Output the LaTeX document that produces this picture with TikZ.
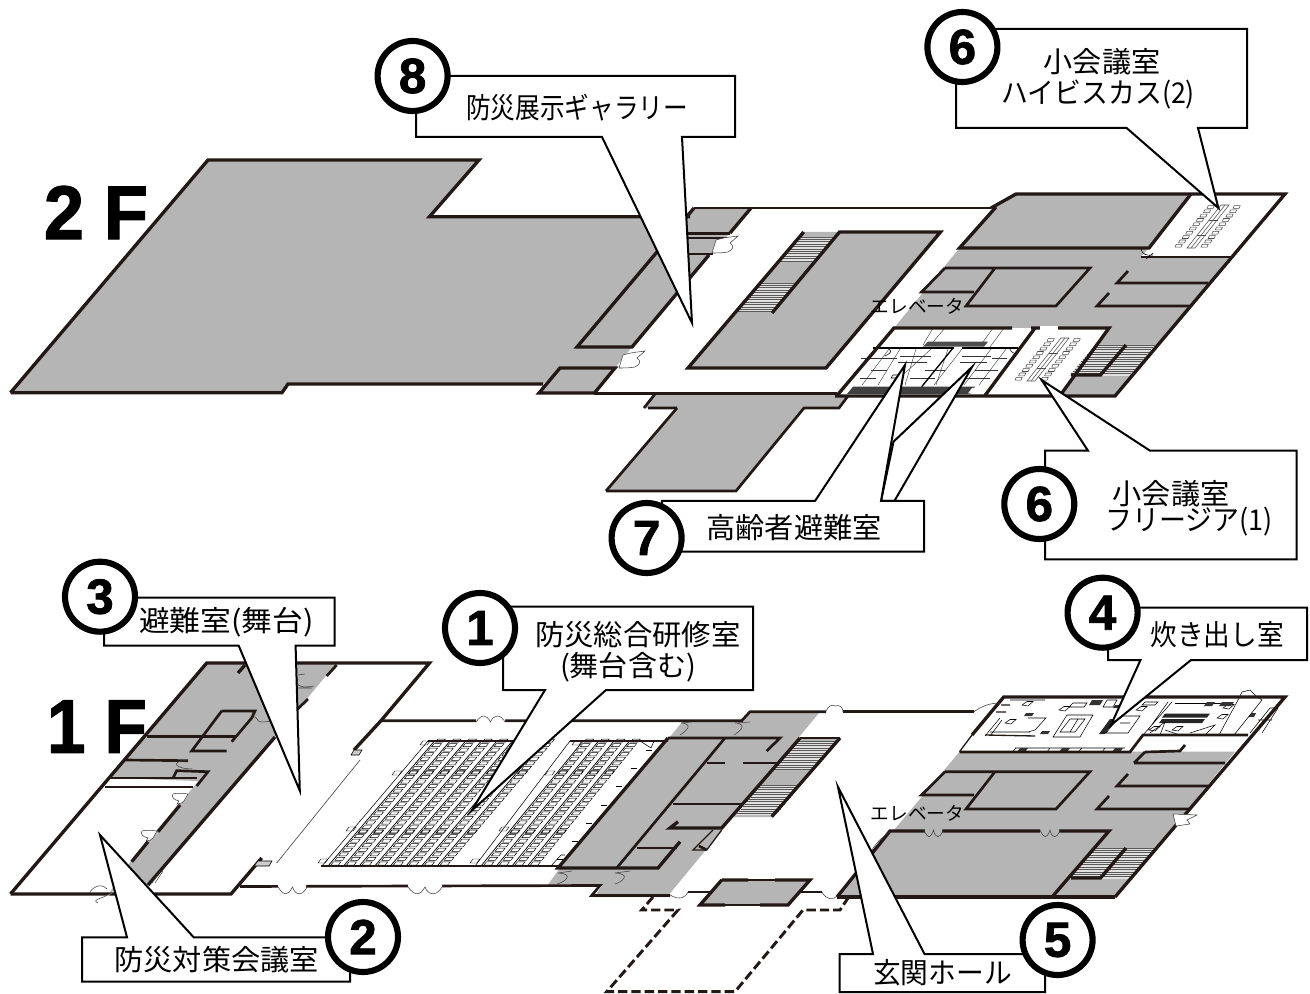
\documentclass[tikz,border=0pt]{standalone}
\usepackage{fontspec}
\setmainfont{Liberation Sans}
\newfontfamily\jp{Noto Sans CJK JP}
\newfontfamily\numf[UprightFont=* Bold,FakeBold=1.6]{Liberation Sans}
\definecolor{wallc}{HTML}{231815}
\definecolor{grayc}{HTML}{B5B5B5}
\tikzset{
 floorg/.style={fill=grayc,draw=none},
 wall/.style={draw=wallc,line width=2.5pt,line join=miter,line cap=butt},
 wallb/.style={draw=wallc,line width=2pt,line join=miter},
 thin1/.style={draw=black,line width=0.4pt},
 hair/.style={draw=black!80,line width=0.3pt},
 med1/.style={draw=wallc,line width=1pt},
 doorl/.style={draw=black!75,line width=0.4pt,fill=white},
 dashw/.style={draw=wallc,line width=2.2pt,dash pattern=on 7pt off 3pt},
 call/.style={draw=black,line width=1.5pt,fill=white,line join=miter},
 numc/.style={circle,draw=black,line width=4.6pt,fill=white,minimum size=52.5pt,inner sep=0pt,font=\fontsize{37}{40}\selectfont\numf},
 flr/.style={inner sep=0pt,font=\fontsize{57}{60}\selectfont\numf},
 lbl/.style={inner sep=0pt,font=\fontsize{21.5}{24}\selectfont\jp},
 ele/.style={inner sep=0pt,font=\fontsize{14}{16}\selectfont\jp},
 seat/.style={draw=black,line width=0.36pt,fill=white},
 seatb/.style={draw=black,line width=0.65pt,fill=white},
 spine/.style={draw=black,line width=0.55pt},
 conf1/.style={draw=black!70,line width=0.4pt,fill=white},
}
\newcommand\wtxt[2]{\resizebox{#1pt}{\height}{#2}}
% stripes of a stair: left x, right x at y0, down to y1
\newcommand\stairs[4]{%
 \fill[black!12] (#1,#3)--(#2,#3)--({#2-0.85*(#4-#3)},#4)--({#1-0.85*(#4-#3)},#4)--cycle;
 \pgfmathsetmacro\ysec{#3+2.4}%
 \foreach \yy in {#3,\ysec,...,#4}{\draw[draw=black!65,line width=0.55pt] ({#1-0.85*(\yy-#3)},\yy)--({#2-0.85*(\yy-#3)},\yy);}}
% double door wave
\newcommand\wave[4]{\draw[doorl,fill=none] (#1,#2) .. controls ({#1+0.2*#3},{#2+#4}) and ({#1+0.35*#3},{#2+#4}) .. ({#1+0.5*#3},#2) .. controls ({#1+0.6*#3},{#2+#4}) and ({#1+0.85*#3},{#2+#4}) .. ({#1+#3},#2);}
\newcommand\wing[2]{\draw[doorl] (#1,#2) .. controls ({#1+10},{#2-3}) and ({#1+16},{#2-3}) .. ({#1+22},{#2-4}) -- ({#1+14},{#2+3}) .. controls ({#1+18},{#2+6}) and ({#1+18},{#2+9}) .. ({#1+12},{#2+12}) .. controls ({#1+6},{#2+13}) and ({#1+2},{#2+13}) .. ({#1-4},{#2+13}) -- cycle;}
\newcommand\smallwing[2]{\draw[doorl] (#1,#2) .. controls ({#1-6},{#2-1}) and ({#1-12},{#2-1}) .. ({#1-15},{#2}) .. controls ({#1-17},{#2+3}) and ({#1-14},{#2+6}) .. ({#1-9},{#2+7}) -- ({#1-11},{#2+10}) .. controls ({#1-8},{#2+10}) and ({#1-5},{#2+9}) .. ({#1-4},{#2+7}) -- cycle;}
\newcommand\conf[2]{%
 \draw[conf1] ({#1+11},{#2-2})--({#1+19},{#2-2})--({#1-15},{#2+41})--({#1-23},{#2+41})--cycle;
 \draw[conf1] ({#1+15},{#2-2})--({#1-19},{#2+41});
 \draw[conf1] ({#1-1},{#2+13})--({#1+8},{#2+13}) ({#1-13},{#2+28})--({#1-4},{#2+28});
 \foreach \ii in {0,...,9}{
  \draw[conf1] ({#1-3.55*\ii-3},{#2+4.3*\ii+1.4})--++(6,0)--++(1.2,-2.8)--++(-6,0)--cycle;
  \draw[conf1] ({#1+26-3.55*\ii-3},{#2+4.3*\ii+1.4})--++(6,0)--++(1.2,-2.8)--++(-6,0)--cycle;}}
\newcommand\diam[2]{\draw[thin1,fill=white] ({#1-5},#2)--({#1},{#2-3.5})--({#1+6},{#2-3.5})--({#1+1},{#2+1})--cycle;}
\begin{document}
\begin{tikzpicture}[x=0.75pt,y=-0.75pt]
\useasboundingbox (0,0) rectangle (1310,994);
\fill[white] (0,0) rectangle (1310,994);

%%%%%%%%%% 2F
\fill[floorg] (10.5,392.7)--(208,160)--(479,160)--(429.5,216.7)--(686,216.7)--(694,208)--(751,208)--(632,347)--(615,368)--(560,368)--(543,384)--(288,384)--(282,392.7)--cycle;
\fill[floorg] (560,368)--(615,368)--(594.5,393)--(539,393)--cycle;
\fill[floorg] (655,394)--(839,394)--(848,397)--(839,408)--(804,408)--(736,491)--(606,491)--(677,408)--(644,408)--cycle;
\fill[floorg] (803.7,232)--(940.5,232)--(826,368)--(688,368)--cycle;
\fill[floorg] (995,208)--(1016,194)--(1191,194)--(1149,248)--(959.5,248)--cycle;
\fill[floorg] (959.5,248)--(1149,248)--(1140.5,257)--(1231,257)--(1115,396)--(1060.5,396)--(1109,328)--(894,328)--cycle;
\stairs{799.6}{835.3}{237}{262}
\stairs{761.4}{797}{283}{312}
\stairs{1095}{1155}{345}{376}
% room 7 details
\begin{scope}
\fill[white!30!black] (928,341.7)--(988,341.7)--(984,346.7)--(923,346.7)--cycle;
\fill[white!25!black] (853,386.7)--(975,386.7)--(970,394)--(847,394)--cycle;
\fill[white] (972,388)--(983,388)--(979,393.5)--(968,393.5)--cycle;
\draw[hair] (933,328)--(923,345) (945,328)--(933,342) (993,328)--(983,342) (1004,328)--(990,347);
\draw[med1,draw=black] (873,348)--(954,348) (962,348)--(1018,348);
\draw[hair] (900,356.7)--(931,356.7) (962,356.7)--(991,356.7) (898,362.7)--(927,362.7) (960,362.7)--(987,362.7);
\draw[hair] (861,358)--(897,358) (992,358)--(1007,358) (871,370)--(887,370) (925,370)--(945,370) (975,370)--(998,370) (860,378)--(876,378) (910,378)--(935,378) (965,378)--(990,378);
\foreach \a/\b in {889/862,900/878,931/892,962/934,991/964,1006/979,948/936,916/905}{\draw[hair] (\a,349)--(\b,385);}
\draw[med1,draw=black] (953,348)--(921.7,386.7);
\draw[thin1,fill=white] (893,375)--(900,375)--(898,378)--(891,378)--cycle;
\draw[thin1] (889,349) .. controls (893,352) and (889,354) .. (885,356);
\draw[thin1] (1010,347) .. controls (1009,350) and (1012,353) .. (1016,354);
\end{scope}
\conf{1210}{207}
\conf{1050}{340}
% walls 2F
\draw[wall] (10.5,392.7)--(208,160)--(479,160)--(429.5,216.7)--(690,216.7);
\draw[wall] (10.5,392.7)--(282,392.7)--(288,384)--(543,384);
\draw[wall] (539,393)--(560,368)--(615,368)--(594.5,393)--cycle;
\draw[wallb] (594,393.5)--(837,393.5);
\draw[wall] (694,208)--(577,347)--(632,347)--(709,255);
\draw[wallb] (713,254)--(684,254) (684,233.5)--(730,233.5) (684,238)--(727,238);
\draw[wallb] (694,208)--(991,208);
\draw[wall] (751,208)--(730,233);
\draw[wall] (803.7,232)--(688,368)--(826,368)--(940.5,232)--(839.5,232)--(772,313);
\draw[wallb] (648,408)--(677,408) (644,408)--(655,394);
\draw[wallb] (606,491)--(677,408);
\draw[wallb] (606,491)--(736,491)--(804,408)--(839,408)--(848,396);
\draw[wall] (991,208)--(1016,194)--(1285,194)--(1115,396)--(835,396);
\draw[wall] (996,207)--(959.5,248)--(1149,248)--(1191,194);
\draw[wallb] (1140.5,257)--(1232,257);
\draw[wall] (837,395.5)--(894,328)--(1012,328);
\draw[wall] (1035,328)--(985,395.5);
\draw[wall] (1031,328)--(1109,328)--(1060.5,395);
\draw[wallb] (945,268)--(1090,268)--(1056,306)--(966,306)--(995,268);
\draw[wallb] (945,268)--(921.6,292)--(974,292);
\draw[wallb] (1128,271)--(1117,283)--(1208,283);
\draw[wallb] (1109,293)--(1097,306)--(1189,306);
\draw[wall] (1126,345)--(1100.5,375)--(1071,375);
% doors 2F
\wing{623}{355}
\wing{716}{240}
\draw[thin1] (1141,249) .. controls (1142,254) and (1146,256) .. (1153,255) (1146,259)--(1153,253);
\fill[white] (1040,326) rectangle (1058,330);

%%%%%%%%%% 1F
\fill[floorg] (206.7,663)--(336.7,664)--(326.7,675)--(310,695)--(275,737)--(148,885)--(110,892)--(131,861)--(196,784)--(198,781)--(110.7,778)--cycle;
\fill[floorg] (547,886)--(560,868)--(669,738)--(683,721)--(741.7,721)--(750,711.7)--(820,711.7)--(667,897)--(594,897)--(602,886)--cycle;
\fill[floorg] (800,738)--(840,738)--(772,817)--(733,817)--cycle;
\fill[floorg] (721.7,880)--(810,880)--(788,905)--(700,905)--cycle;
\fill[floorg] (959.5,751.7)--(1235,751.7)--(1115,897)--(837,897)--(890,832)--(894,830)--cycle;
\stairs{798}{838}{741}{770}
\stairs{761}{801}{785}{815}
\stairs{1095}{1155}{848}{879}
% seats
\foreach \c in {0,...,7}{
 \draw[spine] ({328+\c*15.6},866)--({434.5+\c*15.6},741);
 \foreach \r in {0,...,27}{
  \ifnum\r=7 \def\st{seatb}\else\ifnum\r=20 \def\st{seatb}\else\def\st{seat}\fi\fi
  \draw[\st] ({331+\c*15.6+3.87*\r},{865-4.55*\r})--++(7.5,0)--++(2.4,-3.1)--++(-7.5,0)--cycle;}}
\foreach \c in {0,...,3}{
 \draw[spine] ({481+\c*15.5},866)--({583+\c*15.5},741);
 \foreach \r in {0,...,27}{
  \ifnum\r=7 \def\st{seatb}\else\ifnum\r=20 \def\st{seatb}\else\def\st{seat}\fi\fi
  \draw[\st] ({484+\c*15.5+3.7*\r},{865-4.55*\r})--++(7.5,0)--++(2.4,-3.1)--++(-7.5,0)--cycle;}}
\foreach \a/\b in {318/863,346/831,392/775,420/745,470/863,499/831,545/775,572/745}{\draw[seat] (\a,\b)--++(7,0)--++(3,-4)--++(-7,0)--cycle;}
\draw[thin1] (322,866)--(428,741) (475,866)--(570,741);
\foreach \r in {1,5,...,25}{\draw[thin1] ({553+3.7*\r},{864-4.55*\r})--++(6,0);}
\draw[med1] (428,741)--(546,741) (570,741)--(668,741) (321,866)--(559,866);
\draw[thin1] (640,741)--(651,748)--(654,741) (551,866)--(561,855)--(565,855);
% kitchen
\begin{scope}
\diam{1027}{705}\diam{1010}{723}\diam{1064}{710}\diam{1141}{710}\diam{1177}{730}\diam{1222}{718}\diam{1228}{708}\diam{1154}{730}
\draw[thin1,fill=white] (1053,737)--(1067,715)--(1093,715)--(1080,737)--cycle;
\draw[thin1] (1060,732)--(1070,719)--(1085,719)--(1075,732)--cycle (1070,732)--(1078,719);
\draw[thin1] (1073,703)--(1087,703)--(1084,707)--(1069,707)--cycle;
\fill[black!80] (1092,700)--(1103,700)--(1100,705)--(1089,705)--cycle;
\draw[thin1] (1107,700)--(1117,700)--(1113,707)--(1103,707)--cycle (1145,702)--(1158,702)--(1155,705)--(1142,705)--cycle;
\fill[black!85] (1110,719)--(1116,719)--(1105,734)--(1099,734)--cycle (1165,713.5)--(1210,713.5)--(1207,717.5)--(1162,717.5)--cycle (1162,719)--(1205,719)--(1202,723)--(1159,723)--cycle;
\draw[thin1] (1106,733)--(1128,733)--(1140,716)--(1120,716)--cycle (1120,723)--(1130,723);
\draw[thin1] (1172,702)--(1143,735) (1168,702)--(1148,730);
\draw[thin1] (1175,703)--(1230,703);
\draw[thin1] (1028,718)--(1046,718)--(1035,730)--(1028,732) (990,732)--(1030,732);
\draw[thin1] (1000,718)--(985,736) (1002,720)--(990,736) (1010,700)--(1045,700);
\draw[med1] (1001,705)--(1010,705) (996,712)--(1006,712) (985,735)--(1035,736);
\fill[black!80] (1026,713)--(1034,713)--(1032,716)--(1024,716)--cycle (1042,731)--(1050,731)--(1048,734)--(1040,734)--cycle (1115,705)--(1122,705)--(1120,708)--(1113,708)--cycle (1207,702)--(1215,702)--(1212,706)--(1204,706)--cycle (1222,702)--(1234,702)--(1231,706)--(1219,706)--cycle (1249,713)--(1256,713)--(1254,717)--(1247,717)--cycle;
\draw[thin1] (1015,748)--(1125,748) (1012,752)--(1123,752) (1016,748)--(1012,752) (1050,748)--(1047,752) (1082,748)--(1078,752) (1105,748)--(1102,752);
\fill[black!80] (1020,748)--(1028,748)--(1025,752)--(1017,752)--cycle (1062,748)--(1070,748)--(1067,752)--(1059,752)--cycle (1115,748)--(1123,748)--(1120,752)--(1112,752)--cycle;
\draw[thin1] (1250,733)--(1270,708) (1262,733)--(1278,708)--(1270,708) (1258,720)--(1272,720);
\draw[thin1,fill=white] (1238,700)--(1242,692)--(1250,690)--(1256,696)--(1262,700)--(1234,735)--(1219,735)--cycle;
\draw[thin1] (1190,733)--(1215,725)--(1205,735) (1150,733)--(1165,722)--(1160,735) (1165,730)--(1180,735);
\end{scope}
% walls 1F
\draw[wall] (10.5,894)--(206.7,663)--(429.5,663)--(381,720.7)--(354,750);
\draw[wall] (10.5,894)--(231,894)--(261.7,858);
\draw[wallb] (240,886.5)--(600,885.5)--(591.7,895.5)--(670,895.5);
\draw[draw=black!70,line width=0.5pt] (276.7,863)--(360,760);
\draw[thin1,fill=black!20] (354,750)--(362,750)--(359,755)--(351,755)--cycle (258,861)--(272,861)--(269,866)--(254,866)--cycle;
\draw[wallb] (381,720.7)--(741.7,720.7)--(750,711.7)--(826,711.7);
\draw[wallb] (843,711.7)--(974,711.7);
% left wing
\draw[wall] (245,665)--(238,673);
\draw[wallb] (336.7,665)--(326.7,676) (296.7,710)--(308,699);
\draw[wall] (275,737)--(148,885);
\draw[wallb] (221.7,711)--(255,711)--(251.7,718)--(231.7,741.7) (221.7,711)--(191.7,751)--(226.7,751);
\draw[wallb] (146.7,736.7)--(236.7,736.7);
\draw[wallb] (125,760)--(188,760.7);
\draw[wallb] (173,778)--(176.7,770.7)--(208,771.7)--(196.7,786);
\draw[wallb] (110.7,778)--(197,778) (105,787)--(193,787);
\draw[wall] (180,805)--(158,831.7) (148,841.7)--(131.7,861.7);
% centre block
\draw[wall] (668,738)--(558,868)--(658,868)--(680,841.7);
\draw[wallb] (725,738)--(616.7,868);
\draw[wallb] (668,738)--(780,738)--(766.7,751);
\draw[wallb] (706.7,763)--(725,763) (743,763)--(778,763);
\draw[wallb] (673,804)--(743,804);
\draw[wallb] (636.7,848)--(676.7,848);
\draw[wall] (800,738)--(721.7,828)--(670,828)--(678,821.7);
\draw[wallb] (800,738)--(840,738);
\draw[wall] (840,738)--(771.7,816.7);
\draw[med1] (713,830)--(693,850)--(706.7,850)--(721.7,830);
\draw[wallb] (699,846)--(706.7,850);
\draw[wall] (721.7,880)--(748,880) (775,880)--(810,880)--(788,905)--(760,905) (725,905)--(700,905)--(721.7,880);
\draw[med1] (748,880)--(775,880) (725,905)--(760,905);
\draw[wallb] (688,892)--(710,892) (800,892)--(821.7,892);
\draw[wall] (837,897)--(1115,897);
\draw[wall] (837,897)--(890,831)--(1109,831)--(1052,897);
\draw[wall] (1115,897)--(1285,697)--(1003.7,697)--(972,735);
\draw[med1] (972,735)--(959.5,751.7);
\draw[wallb] (959.5,752)--(1130,752)--(1143,735)--(1248,735);
\draw[wallb] (1145,752)--(1180,751)--(1185,745);
\draw[wallb] (1134,763)--(1145,752) (1134,763)--(1225,763);
\draw[wallb] (945,771.7)--(1090,771.7)--(1056,809)--(966,809)--(995,771.7);
\draw[wallb] (945,771.7)--(921.6,795)--(974,795);
\draw[wallb] (1128,774)--(1117,786)--(1208,786);
\draw[wallb] (1109,796)--(1097,809)--(1189,809);
\draw[wall] (1126,848)--(1100.5,878)--(1071,878);
% dashed extension
\draw[dashw] (653,897)--(641.7,910)--(678,910)--(606.7,991.7)--(735,991.7)--(803,910)--(840,910)--(848,898);
% doors 1F
\fill[white] (476,717) rectangle (505,724) (278,883) rectangle (306,889) (408,883) rectangle (442,889);
\fill[grayc] (925,828) rectangle (942,834) (1040,828) rectangle (1059,834);
\wave{476}{722}{29}{-8}
\wave{278}{887}{29}{9}
\wave{408}{887}{34}{9}
\wave{924}{830}{19}{9}
\wave{1040}{830}{20}{9}
\draw[doorl,fill=none] (681,723) .. controls (695,724) and (685,732) .. (680,735) (691,722)--(681,723);
\draw[doorl,fill=none] (735,723) .. controls (749,724) and (739,732) .. (734,735) (750,722)--(735,723);
\draw[doorl,fill=none] (558,873) .. controls (575,874) and (565,882) .. (557,884) (572,871)--(558,873);
\draw[doorl,fill=none] (615,873) .. controls (632,874) and (622,882) .. (615,884) (630,871)--(615,873);
\draw[doorl,fill=white] (826,711) .. controls (828,706) and (832,704) .. (835,706) .. controls (840,704) and (843,708) .. (843,711.7);
\draw[doorl,fill=none] (974,711.7) .. controls (982,706) and (990,703) .. (1000,703);
\draw[doorl,fill=none] (670,895) .. controls (680,901) and (686,897) .. (688,892);
\draw[doorl,fill=none] (822,892) .. controls (826,900) and (834,900) .. (837,896);
\draw[doorl,fill=none] (890,832) .. controls (880,838) and (875,845) .. (870,853);
\draw[doorl,fill=white] (1173,814)--(1197,815)--(1187,820)--(1190,824)--(1176,826)--cycle;
% left wing doors
\draw[doorl,fill=none] (298,675)--(305,674) (298,679) .. controls (294,687) and (304,688) .. (314,686) (298,688)--(312,688);
\draw[doorl,fill=none] (252,718) .. controls (258,714) and (255,722) .. (262,722) .. controls (268,722) and (270,720) .. (272,724);
\draw[doorl,fill=none] (188,761) .. controls (176,759) and (168,768) .. (192,769);
\smallwing{188}{794}
\smallwing{157}{831}
\draw[doorl,fill=none] (160,871)--(152,883) (163,871)--(155,883);
\draw[doorl,fill=white] (107,889) .. controls (100,882) and (92,888) .. (90,892) (112,893) .. controls (98,900) and (92,900) .. (98,903);

%%%%%%%%%% Callouts
\draw[call] (416,76)--(735,76)--(735,137)--(682,137)--(692,323)--(602,137)--(416,137)--cycle;
\draw[call] (956,29)--(1247,29)--(1247,128)--(1198,128)--(1218.4,208)--(1126.6,128)--(956,128)--cycle;
\draw[call] (1045,450.7)--(1088,450.7)--(1041.6,380)--(1150,450.7)--(1296.6,450.7)--(1296.6,559.3)--(1045,559.3)--cycle;
\draw[call] (893.5,441.7)--(972,367)--(894.4,501)--(881,501)--cycle;
\draw[call] (662,501)--(815,501)--(905,365)--(881,501)--(924,501)--(924,551.7)--(662,551.7)--cycle;
\draw[call] (104,597.7)--(334.7,597.7)--(334.7,645.7)--(295.6,645.7)--(299.8,790.7)--(238.7,645.7)--(104,645.7)--cycle;
\draw[call] (503,606.7)--(753,606.7)--(753,690)--(606,690)--(471.6,810.7)--(545,690)--(503,690)--cycle;
\draw[call] (82,937.3)--(127,937.3)--(100,835)--(193.7,937.3)--(350,937.3)--(350,981.7)--(82,981.7)--cycle;
\draw[call] (1108,607.7)--(1307,607.7)--(1307,660)--(1191,660)--(1111,725)--(1140.5,660)--(1108,660)--cycle;
\draw[call] (839.5,954)--(873,954)--(838,787)--(924.5,954)--(1045,954)--(1045,992)--(839.5,992)--cycle;

%%%%%%%%%% Numbers
\node[numc] (n8) at (412.6,76) {8};
\node[numc] (n6a) at (962.4,47) {6};
\node[numc] (n6b) at (1039.3,504) {6};
\node[numc] (n7) at (646.6,538) {7};
\node[numc] (n3) at (100,596.7) {3};
\node[numc] (n1) at (480,628) {1};
\node[numc] (n2) at (363,937) {2};
\node[numc] (n4) at (1102.6,612.7) {4};
\node[numc] (n5) at (1057.6,940) {5};

%%%%%%%%%% Texts
\node[flr] (f2) at (96,212.5) {\wtxt{78}{2 F}};
\node[flr] (f1) at (97,726.5) {\wtxt{75}{1 F}};
\node[lbl] (t8) at (577,108) {\wtxt{166.5}{防災展示ギャラリー}};
\node[lbl] (t6a) at (1102,62) {\wtxt{87.5}{小会議室}};
\node[lbl] (t6b) at (1098.3,95) {\wtxt{145}{ハイビスカス(2)}};
\node[lbl] (t6c) at (1171,494) {\wtxt{87.6}{小会議室}};
\node[lbl] (t6d) at (1189,522) {\wtxt{125.7}{フリージア(1)}};
\node[lbl] (t7) at (794,528) {\wtxt{131.5}{高齢者避難室}};
\node[lbl] (t3) at (226.5,622) {\wtxt{131}{避難室(舞台)}};
\node[lbl] (t1a) at (637.7,635) {\wtxt{154}{防災総合研修室}};
\node[lbl] (t1b) at (628,667) {\wtxt{102}{(舞台含む)}};
\node[lbl] (t2) at (216.7,960) {\wtxt{153.4}{防災対策会議室}};
\node[lbl] (t4) at (1217,635) {\wtxt{100}{炊き出し室}};
\node[lbl] (t5) at (942.5,973) {\wtxt{104}{玄関ホール}};
\node[ele] (e2) at (917.5,306) {\wtxt{70}{エレベータ}};
\node[ele] (e1) at (917.5,813) {\wtxt{70}{エレベータ}};
\end{tikzpicture}
\end{document}
